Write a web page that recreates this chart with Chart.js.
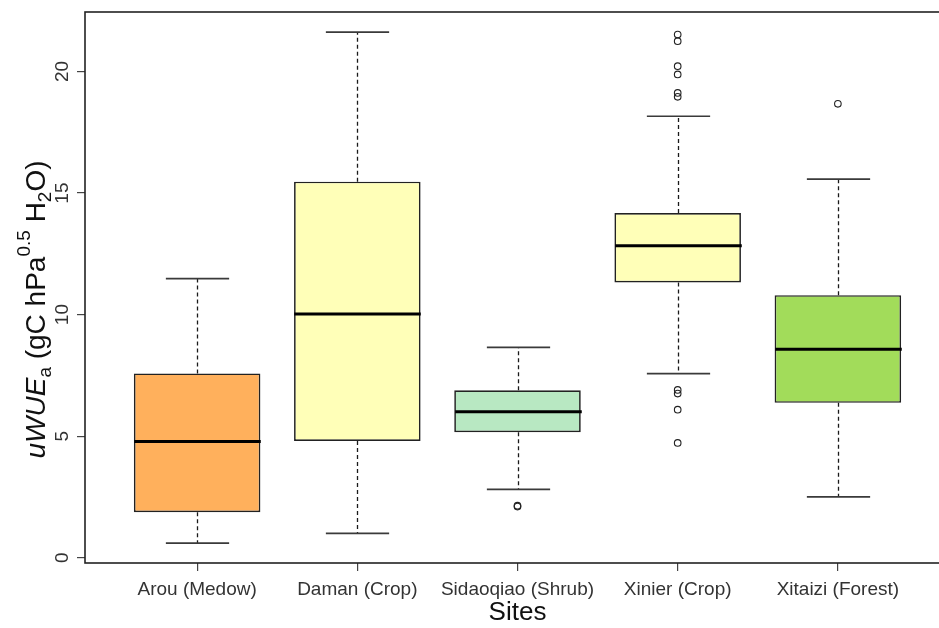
<!DOCTYPE html>
<html>
<head>
<meta charset="utf-8">
<script src="https://cdn.jsdelivr.net/npm/chart.js@4/dist/chart.umd.min.js"></script>
<style>
  html, body { margin: 0; padding: 0; background: #fff; overflow: hidden; width: 939px; height: 628px; }
  #wrap { width: 960px; height: 628px; }
  canvas { display: block; }
</style>
</head>
<body>
<div id="wrap"><canvas id="c" width="960" height="628"></canvas></div>
<script>
// Sites and their box-plot statistics (uWUEa, gC hPa^0.5 / kg H2O)
const sites = ['Arou (Medow)', 'Daman (Crop)', 'Sidaoqiao (Shrub)', 'Xinier (Crop)', 'Xitaizi (Forest)'];
const whiskerLow  = [0.60, 1.00, 2.81, 7.57, 2.50];
const q1          = [1.87, 4.80, 5.16, 11.32, 6.37];
const median      = [4.78, 10.02, 6.00, 12.83, 8.57];
const q3          = [7.58, 15.47, 6.89, 14.18, 10.80];
const whiskerHigh = [11.48, 21.62, 8.65, 18.16, 15.57];
const outlierSite  = [3, 3, 4, 4, 4, 4, 4, 4, 4, 4, 4, 4, 5];
const outlierValue = [2.10, 2.14, 21.52, 21.25, 20.22, 19.88, 19.12, 18.96, 6.90, 6.75, 6.09, 4.72, 18.67];
const boxColors = ['#FFB05C', '#FFFFB8', '#B8E8C2', '#FFFFB8', '#A2DC5A'];
const yTickValues = [0, 5, 10, 15, 20];

const FONT = "'Liberation Sans', Arial, Helvetica, sans-serif";
const BOX_FRACTION = 0.79;

// Whiskers, caps, medians, plot frame and rotated y-axis text
const boxExtras = {
  id: 'boxExtras',
  afterDatasetsDraw(chart) {
    const ctx = chart.ctx;
    const xs = chart.scales.x, ys = chart.scales.y;
    const unit = xs.getPixelForValue(2) - xs.getPixelForValue(1);
    const halfBox = unit * BOX_FRACTION / 2;
    const halfCap = halfBox / 2;
    ctx.save();
    sites.forEach((s, i) => {
      const x = Math.round(xs.getPixelForValue(i + 1)) + 0.5;
      // dashed whiskers
      ctx.setLineDash([4, 3]);
      ctx.strokeStyle = '#1a1a1a';
      ctx.lineWidth = 1.3;
      ctx.beginPath();
      ctx.moveTo(x, ys.getPixelForValue(q3[i]));
      ctx.lineTo(x, ys.getPixelForValue(whiskerHigh[i]));
      ctx.moveTo(x, ys.getPixelForValue(q1[i]));
      ctx.lineTo(x, ys.getPixelForValue(whiskerLow[i]));
      ctx.stroke();
      ctx.setLineDash([]);
      // caps
      ctx.strokeStyle = '#3a3a3a';
      ctx.lineWidth = 1.7;
      ctx.beginPath();
      [whiskerHigh[i], whiskerLow[i]].forEach(v => {
        const y = ys.getPixelForValue(v);
        ctx.moveTo(x - halfCap, y);
        ctx.lineTo(x + halfCap, y);
      });
      ctx.stroke();
      // median
      ctx.strokeStyle = '#000';
      ctx.lineWidth = 3;
      ctx.beginPath();
      const ym = ys.getPixelForValue(median[i]);
      ctx.moveTo(x - halfBox, ym);
      ctx.lineTo(x + halfBox, ym);
      ctx.stroke();
    });
    ctx.restore();
  },
  afterDraw(chart) {
    const ctx = chart.ctx;
    const a = chart.chartArea;
    const ys = chart.scales.y;
    ctx.save();
    // frame around the plotting region
    ctx.strokeStyle = '#222';
    ctx.lineWidth = 1.6;
    ctx.strokeRect(a.left, a.top, a.right - a.left, a.bottom - a.top);

    // y tick labels, rotated
    ctx.fillStyle = '#333';
    ctx.font = '19px ' + FONT;
    ctx.textAlign = 'center';
    ctx.textBaseline = 'middle';
    yTickValues.forEach(v => {
      ctx.save();
      ctx.translate(62, ys.getPixelForValue(v));
      ctx.rotate(-Math.PI / 2);
      ctx.fillText(String(v), 0, 1);
      ctx.restore();
    });

    // y axis title with italic symbol, subscripts and superscript
    const size = 28, small = 19;
    const parts = [
      { t: 'uWUE', f: 'italic ' + size + 'px ' + FONT, dy: 0 },
      { t: 'a', f: small + 'px ' + FONT, dy: 0.32 * size },
      { t: ' (gC hPa', f: size + 'px ' + FONT, dy: 0 },
      { t: '0.5', f: small + 'px ' + FONT, dy: -0.45 * size },
      { t: ' H', f: size + 'px ' + FONT, dy: 0 },
      { t: '2', f: small + 'px ' + FONT, dy: 0.32 * size },
      { t: 'O)', f: size + 'px ' + FONT, dy: 0 }
    ];
    let total = 0;
    parts.forEach(p => { ctx.font = p.f; p.w = ctx.measureText(p.t).width; total += p.w; });
    ctx.translate(37, (a.top + a.bottom) / 2 + 22);
    ctx.rotate(-Math.PI / 2);
    ctx.fillStyle = '#111';
    ctx.textAlign = 'left';
    ctx.textBaseline = 'middle';
    let cx = -total / 2;
    parts.forEach(p => { ctx.font = p.f; ctx.fillText(p.t, cx, p.dy); cx += p.w; });
    ctx.restore();
  }
};

const boxData = sites.map((s, i) => ({ x: i + 1, y: [q1[i], q3[i]] }));
const outlierData = outlierSite.map((s, i) => ({ x: s, y: outlierValue[i] }));

new Chart(document.getElementById('c'), {
  type: 'bar',
  data: {
    datasets: [
      {
        type: 'bar',
        data: boxData,
        backgroundColor: boxColors,
        borderColor: '#222',
        borderWidth: 1.7,
        borderSkipped: false,
        barPercentage: BOX_FRACTION,
        categoryPercentage: 1
      },
      {
        type: 'scatter',
        data: outlierData,
        showLine: false,
        pointStyle: 'circle',
        pointRadius: 3.3,
        pointBorderWidth: 1.1,
        pointBorderColor: '#222',
        pointBackgroundColor: 'rgba(255,255,255,0)'
      }
    ]
  },
  plugins: [boxExtras],
  options: {
    responsive: false,
    animation: false,
    events: [],
    layout: { padding: { left: 0, top: 12, right: 10, bottom: 0 } },
    plugins: { legend: { display: false }, tooltip: { enabled: false } },
    scales: {
      x: {
        type: 'linear',
        min: 0.3,
        max: 5.7,
        offset: false,
        afterBuildTicks(scale) { scale.ticks = sites.map((s, i) => ({ value: i + 1 })); },
        afterFit(scale) { scale.height = 65; },
        grid: { offset: false, drawOnChartArea: false, drawTicks: true, tickLength: 8, color: '#444', lineWidth: 1.2 },
        border: { display: false },
        ticks: {
          autoSkip: false,
          maxRotation: 0,
          minRotation: 0,
          padding: 7,
          color: '#333',
          font: { family: FONT, size: 19 },
          callback: (v) => sites[v - 1] || ''
        },
        title: {
          display: true,
          text: 'Sites',
          color: '#111',
          font: { family: FONT, size: 26 },
          padding: { top: 0, bottom: 0 }
        }
      },
      y: {
        type: 'linear',
        min: -0.22,
        max: 22.45,
        afterBuildTicks(scale) { scale.ticks = yTickValues.map(v => ({ value: v })); },
        afterFit(scale) { scale.width = 85; },
        grid: { drawOnChartArea: false, drawTicks: true, tickLength: 8, color: '#444', lineWidth: 1.2 },
        border: { display: false },
        ticks: { display: false }
      }
    }
  }
});
</script>
</body>
</html>
